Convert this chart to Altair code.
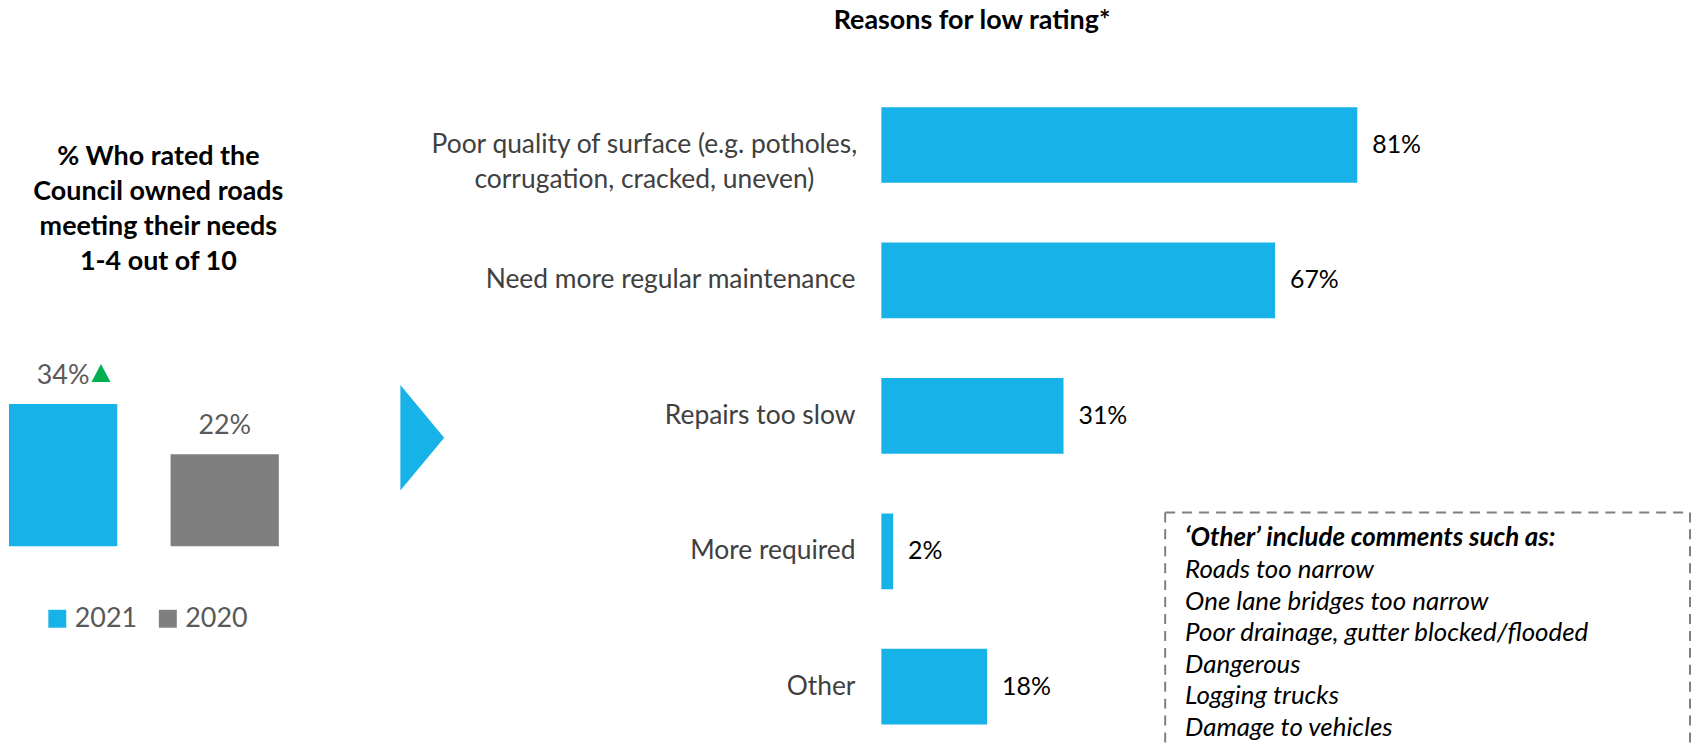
import altair as alt
import pandas as pd

# ---------------- data ----------------
years = ["2021", "2020"]
low_rating_pct = [34, 22]
year_colors = ["#17B2E8", "#7F7F7F"]

reasons = [
    "Poor quality of surface (e.g. potholes,\ncorrugation, cracked, uneven)",
    "Need more regular maintenance",
    "Repairs too slow",
    "More required",
    "Other",
]
reason_pct = [81, 67, 31, 2, 18]

left_title = ["% Who rated the", "Council owned roads", "meeting their needs", "1-4 out of 10"]
right_title = "Reasons for low rating*"
other_header = "\u2018Other\u2019 include comments such as:"
other_items = [
    "Roads too narrow",
    "One lane bridges too narrow",
    "Poor drainage, gutter blocked/flooded",
    "Dangerous",
    "Logging trucks",
    "Damage to vehicles",
]

BLUE = "#17B2E8"
FONT = "Lato"

left_df = pd.DataFrame({
    "year": years,
    "pct": low_rating_pct,
    "label": [f"{v}%" for v in low_rating_pct],
})
right_df = pd.DataFrame({
    "reason": reasons,
    "pct": reason_pct,
    "label": [f"{v}%" for v in reason_pct],
    "multi": ["\n" in r for r in reasons],
})
dummy = pd.DataFrame({"k": [0]})

W, H = 1690, 740

# ---------------- left panel ----------------
x_left = alt.X("year:N", scale=alt.Scale(type="band", domain=years, range=[1, 272], paddingInner=0.33, paddingOuter=0), axis=None)
y_left = alt.Y("pct:Q", scale=alt.Scale(domain=[0, 100], range=[539, 118.4], nice=False, zero=True), axis=None)

left_bars = alt.Chart(left_df).mark_bar().encode(
    x=x_left,
    y=y_left,
    color=alt.Color(
        "year:N",
        scale=alt.Scale(domain=years, range=year_colors),
        legend=alt.Legend(
            orient="none", legendX=36, legendY=598, direction="horizontal", title=None,
            symbolType="square", symbolSize=324, symbolStrokeWidth=0, symbolOpacity=1,
            labelFontSize=27, labelFont=FONT, labelColor="#595959", labelOffset=4,
            columnPadding=17, padding=0,
        ),
    ),
)

left_labels = alt.Chart(left_df).mark_text(
    dy=-20, baseline="alphabetic", align="center", fontSize=27, font=FONT, color="#595959"
).encode(x=x_left, y=y_left, text="label:N")

up_marker = alt.Chart(left_df).transform_filter(alt.datum.year == "2021").mark_point(
    shape="M0,-0.95L1,0.95L-1,0.95Z", size=361, filled=True, color="#00B050", opacity=1,
    strokeWidth=0, xOffset=38, yOffset=-31,
).encode(x=x_left, y=y_left)

left_title_mark = alt.Chart(dummy).mark_text(
    align="center", baseline="alphabetic", fontSize=27, fontWeight="bold", font=FONT,
    color="#000000", lineHeight=35.3,
).encode(x=alt.value(151), y=alt.value(156), text=alt.value(left_title))

arrow = alt.Chart(dummy).mark_point(
    shape="M-0.415,-1L0.415,0L-0.415,1Z", size=11236, filled=True, color=BLUE, opacity=1, strokeWidth=0,
).encode(x=alt.value(416), y=alt.value(430))

# ---------------- right panel ----------------
x_right = alt.X("pct:Q", scale=alt.Scale(domain=[0, 100], range=[877, 1467], nice=False, zero=True), axis=None)
y_right = alt.Y("reason:N", scale=alt.Scale(type="band", domain=reasons, range=[98, 718], paddingInner=0.441, paddingOuter=0), axis=None)

right_bars = alt.Chart(right_df).mark_bar(color=BLUE).encode(x=x_right, y=y_right)

right_values = alt.Chart(right_df).mark_text(
    align="left", baseline="middle", dx=15, fontSize=25, font=FONT, color="#000000"
).encode(x=x_right, y=y_right, text="label:N")

cat_single = alt.Chart(right_df).transform_filter("!datum.multi").mark_text(
    align="right", baseline="middle", fontSize=26.5, font=FONT, color="#404040"
).encode(x=alt.value(851), y=y_right, text="reason:N")

cat_multi = alt.Chart(right_df).transform_filter("datum.multi").mark_text(
    align="center", baseline="middle", fontSize=26.5, font=FONT, color="#404040",
    lineBreak="\n", lineHeight=35,
).encode(x=alt.value(639), y=y_right, text="reason:N")

right_title_mark = alt.Chart(dummy).mark_text(
    align="center", baseline="alphabetic", fontSize=27, fontWeight="bold", font=FONT, color="#000000"
).encode(x=alt.value(968), y=alt.value(20), text=alt.value(right_title))

# ---------------- 'Other' box ----------------
dash = dict(color="#7F7F7F", strokeWidth=2, strokeDash=[10, 7])
box_top = alt.Chart(dummy).mark_rule(**dash).encode(x=alt.value(1162), x2=alt.value(1689), y=alt.value(505))
box_left = alt.Chart(dummy).mark_rule(**dash).encode(x=alt.value(1162), y=alt.value(505), y2=alt.value(H + 20))
box_right = alt.Chart(dummy).mark_rule(**dash).encode(x=alt.value(1689), y=alt.value(505), y2=alt.value(H + 20))

other_head = alt.Chart(dummy).mark_text(
    align="left", baseline="alphabetic", fontSize=26, font=FONT, fontStyle="italic",
    fontWeight="bold", color="#000000",
).encode(x=alt.value(1182), y=alt.value(539), text=alt.value(other_header))

other_list = alt.Chart(dummy).mark_text(
    align="left", baseline="alphabetic", fontSize=26, font=FONT, fontStyle="italic",
    color="#000000", lineHeight=31.7,
).encode(x=alt.value(1182), y=alt.value(571), text=alt.value(other_items))

chart = alt.layer(
    left_bars, left_labels, up_marker, left_title_mark, arrow,
    right_bars, right_values, cat_single, cat_multi, right_title_mark,
    box_top, box_left, box_right, other_head, other_list,
).resolve_scale(
    x="independent", y="independent", color="independent"
).properties(
    width=W, height=H, padding=0, autosize=alt.AutoSizeParams(type="none"),
).configure_view(stroke=None)

chart.save("out.html", embed_options={"renderer": "svg", "actions": False})
